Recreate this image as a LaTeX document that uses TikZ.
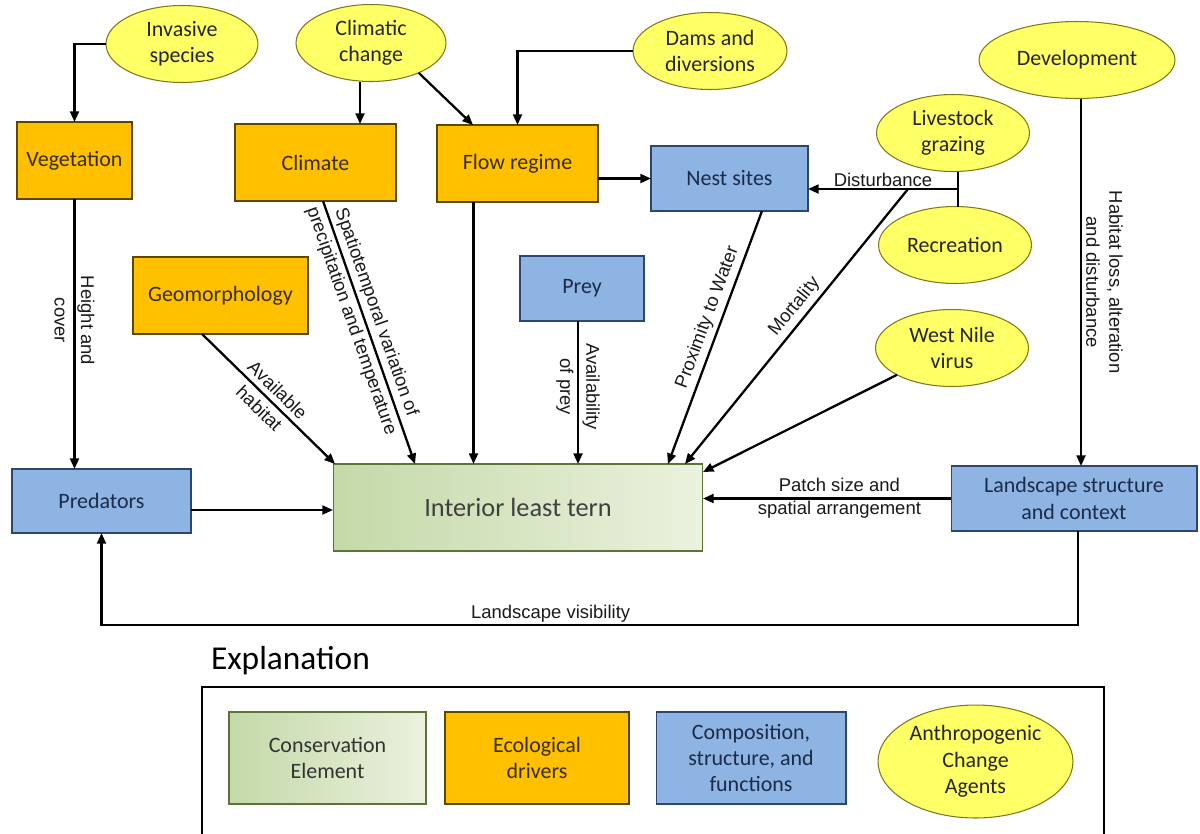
\documentclass[tikz,border=0pt]{standalone}
\usepackage{fontspec}
\setmainfont{Carlito}
\newfontfamily\arialfont{Liberation Sans}
\usetikzlibrary{shapes.geometric,arrows.meta}
\definecolor{drvfill}{HTML}{FFC000}
\definecolor{drvline}{HTML}{5C4600}
\definecolor{drvtext}{HTML}{3A2D00}
\definecolor{cmpfill}{HTML}{8EB4E3}
\definecolor{cmpline}{HTML}{2C4670}
\definecolor{cmptext}{HTML}{1C2B48}
\definecolor{agfill}{HTML}{FFFF66}
\definecolor{agline}{HTML}{7E7A1C}
\definecolor{ternL}{HTML}{C4D9A8}
\definecolor{ternR}{HTML}{EBF1DE}
\definecolor{ternline}{HTML}{5E7337}

\begin{document}
\begin{tikzpicture}[x=0.02cm,y=-0.02cm]
\tikzstyle{every node}+=[inner sep=0pt,outer sep=0pt]
\tikzstyle{boxfont}=[font=\fontsize{12.5}{15}\selectfont,align=center]
\tikzstyle{drv}=[boxfont,draw=drvline,fill=drvfill,text=drvtext,line width=0.6pt]
\tikzstyle{cmp}=[boxfont,draw=cmpline,fill=cmpfill,text=cmptext,line width=0.6pt]
\tikzstyle{agent}=[boxfont,ellipse,draw=agline,fill=agfill,text=black!85,line width=0.6pt]
\tikzstyle{arr}=[line width=1.3pt,-{Triangle[length=6pt,width=5pt]}]
\tikzstyle{lbl}=[font=\arialfont\fontsize{10.5}{15}\selectfont,align=center,inner sep=1.5pt,text=black!90]

\useasboundingbox (0,0) rectangle (1200,833);
\clip (0,0) rectangle (1200,833);

\node[agent,minimum width=3.04cm,minimum height=1.54cm] (inv) at (182,44) {Invasive\\species};
\node[agent,minimum width=3cm,minimum height=1.54cm] (climchg) at (371,43) {Climatic\\change};
\node[agent,minimum width=3.08cm,minimum height=1.54cm] (dams) at (710,51) {Dams and\\diversions};
\node[agent,minimum width=3.92cm,minimum height=1.54cm] (dev) at (1077,60) {Development};
\node[agent,minimum width=3.06cm,minimum height=1.54cm] (live) at (953,133) {Livestock\\grazing};
\node[agent,minimum width=3.06cm,minimum height=1.54cm] (recr) at (955,245) {Recreation};
\node[agent,minimum width=3.06cm,minimum height=1.54cm] (wnv) at (952,348) {West Nile\\virus};

\node[drv,minimum width=2.3cm,minimum height=1.54cm] (veg) at (74.5,160.5) {Vegetation};
\node[drv,minimum width=3.22cm,minimum height=1.54cm] (climate) at (315.5,162.5) {Climate};
\node[drv,minimum width=3.22cm,minimum height=1.54cm] (flow) at (517.5,163.5) {Flow regime};
\node[drv,minimum width=3.5cm,minimum height=1.54cm] (geo) at (220.5,295.5) {Geomorphology};
\node[cmp,minimum width=3.14cm,minimum height=1.3cm] (nest) at (729.5,178.5) {Nest sites};
\node[cmp,minimum width=2.48cm,minimum height=1.3cm] (prey) at (582,288.5) {Prey};
\node[cmp,minimum width=3.58cm,minimum height=1.28cm] (pred) at (101.5,501) {Predators};
\node[cmp,minimum width=4.92cm,minimum height=1.3cm] (land) at (1074,498.5) {Landscape structure\\and context};
\node[boxfont,draw=ternline,left color=ternL,right color=ternR,line width=0.6pt,text=black!75,
  font=\fontsize{15}{18}\selectfont,minimum width=7.4cm,minimum height=1.74cm] (tern) at (518,507.5) {Interior least tern};

\coordinate (dj) at (958,189);
\coordinate (mj) at (908,189);

\draw[arr] (inv.west) -| (veg.north);
\draw[arr] ([xshift=-0.22cm]climchg.south) -- ([xshift=-0.22cm]climchg.south |- climate.north);
\draw[arr] (climchg.-32) -- ([xshift=0.72cm]flow.north west);
\draw[arr] (dams.west) -| (flow.north);
\draw[arr] (flow.east |- nest.west) -- (nest.west);
\draw[arr] (veg.south) -- (veg.south |- pred.north)
  node[lbl,pos=0.45,sloped] {Height and\\cover};
\draw[arr] ([xshift=0.15cm]climate.south) -- ([xshift=1.64cm]tern.north west)
  node[lbl,pos=0.44,sloped] {Spatiotemporal variation of\\precipitation and temperature};
\draw[arr] ([xshift=-0.37cm]geo.south) -- ([xshift=0.04cm]tern.north west)
  node[lbl,pos=0.5,sloped] {Available\\habitat};
\draw[arr] ([xshift=-0.88cm]flow.south) -- ([xshift=-0.88cm]flow.south |- tern.north);
\draw[arr] ([xshift=-0.08cm]prey.south) -- ([xshift=-0.08cm]prey.south |- tern.north)
  node[lbl,pos=0.46,sloped] {Availability\\of prey};
\draw[arr] ([xshift=0.65cm]nest.south) -- ([xshift=-0.7cm]tern.north east)
  node[lbl,pos=0.44,sloped,above,inner sep=3pt] {Proximity to Water};
\draw[line width=1.3pt] (live.south -| dj) -- (recr.north -| dj);
\draw[arr] (dj) -- (dj -| nest.east)
  node[lbl,midway,above] {Disturbance};
\draw[arr] (mj) -- ([xshift=-0.36cm]tern.north east)
  node[lbl,pos=0.46,sloped,above,inner sep=3pt] {Mortality};
\draw[arr] (wnv.206) -- ([yshift=-0.16cm]tern.north east);
\draw[arr] (pred.east |- 0,510) -- (tern.west |- 0,510);
\draw[arr] (land.west) -- (land.west -| tern.east)
  node[lbl,pos=0.45,font=\arialfont\fontsize{10.5}{13}\selectfont] {Patch size and\\spatial arrangement};
\draw[arr] ([xshift=0.08cm]dev.south) -- ([xshift=0.08cm]dev.south |- land.north)
  node[lbl,pos=0.5,sloped,above,inner sep=3pt,font=\arialfont\fontsize{10.5}{13}\selectfont] {Habitat loss, alteration\\and disturbance};
\draw[arr] ([xshift=0.08cm]land.south) -- ++(0,94) -| (pred.south)
  node[lbl,pos=0.27,above] {Landscape visibility};

\node[font=\fontsize{19}{22}\selectfont,anchor=west] (expl) at (211,661) {Explanation};
\draw[line width=1.3pt] (202,687) rectangle (1104,860);
\node[boxfont,draw=ternline,left color=ternL,right color=ternR,line width=0.6pt,text=black!80,
  minimum width=3.94cm,minimum height=1.84cm] (lgtern) at (327.5,758) {Conservation\\Element};
\node[drv,minimum width=3.68cm,minimum height=1.84cm] (lgdrv) at (537,758) {Ecological\\drivers};
\node[cmp,minimum width=3.8cm,minimum height=1.84cm] (lgcmp) at (751,758) {Composition,\\structure, and\\functions};
\node[agent,minimum width=3.9cm,minimum height=2.26cm] (lgag) at (975.5,761.5) {Anthropogenic\\Change\\Agents};
\end{tikzpicture}
\end{document}
